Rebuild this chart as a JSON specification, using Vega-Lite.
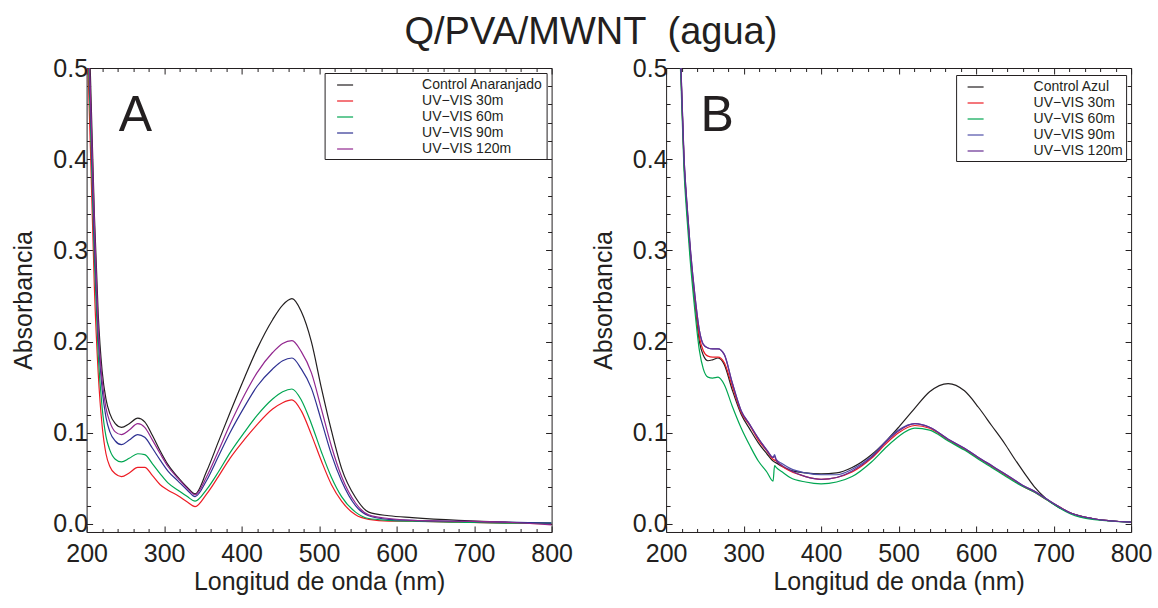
{
  "$schema": "https://vega.github.io/schema/vega-lite/v6.json",
  "padding": {"left": 11.6, "top": 14, "right": 0, "bottom": 0},
  "background": "white",
  "title": {"text": "Q/PVA/MWNT\u00a0 (agua)", "fontSize": 38, "font": "Liberation Sans", "fontWeight": "normal", "color": "#231f20", "anchor": "middle", "baseline": "alphabetic", "offset": -26, "dx": 9},
  "config": {
    "font": "Liberation Sans",
    "view": {"stroke": null},
    "axis": {"grid": false, "domainColor": "#231f20", "domainWidth": 1, "tickColor": "#231f20", "tickWidth": 1, "labelColor": "#231f20", "titleColor": "#231f20", "labelFontSize": 25, "titleFontSize": 25, "titleFontWeight": "normal", "labelFont": "Liberation Sans", "titleFont": "Liberation Sans", "labelFlush": false, "labelOverlap": false, "labelBound": false},
    "legend": {"title": null, "orient": "none", "strokeColor": "#231f20", "fillColor": "white", "padding": 3, "symbolType": "stroke", "symbolSize": 256, "symbolStrokeWidth": 1.2, "labelFontSize": 14, "labelFont": "Liberation Sans", "labelColor": "#231f20", "rowPadding": 0, "labelLimit": 300}
  },
  "spacing": 114.5,
  "bounds": "flush",
  "resolve": {"scale": {"color": "independent"}},
  "hconcat": [
    {
      "width": 465, "height": 464,
      "data": {"values": [
        {"nm": 200, "control": 0.62, "m30": 0.55, "m60": 0.57, "m90": 0.59, "m120": 0.60},
        {"nm": 205, "control": 0.49, "m30": 0.41, "m60": 0.44, "m90": 0.46, "m120": 0.47},
        {"nm": 210, "control": 0.34, "m30": 0.26, "m60": 0.29, "m90": 0.31, "m120": 0.33},
        {"nm": 215, "control": 0.23, "m30": 0.165, "m60": 0.185, "m90": 0.205, "m120": 0.215},
        {"nm": 220, "control": 0.168, "m30": 0.108, "m60": 0.128, "m90": 0.148, "m120": 0.158},
        {"nm": 225, "control": 0.137, "m30": 0.077, "m60": 0.096, "m90": 0.117, "m120": 0.127},
        {"nm": 230, "control": 0.121, "m30": 0.063, "m60": 0.081, "m90": 0.101, "m120": 0.112},
        {"nm": 237, "control": 0.110, "m30": 0.055, "m60": 0.071, "m90": 0.091, "m120": 0.101},
        {"nm": 245, "control": 0.106, "m30": 0.052, "m60": 0.068, "m90": 0.087, "m120": 0.098},
        {"nm": 255, "control": 0.110, "m30": 0.056, "m60": 0.072, "m90": 0.092, "m120": 0.103},
        {"nm": 266, "control": 0.116, "m30": 0.062, "m60": 0.077, "m90": 0.098, "m120": 0.110},
        {"nm": 275, "control": 0.112, "m30": 0.062, "m60": 0.076, "m90": 0.095, "m120": 0.106},
        {"nm": 285, "control": 0.097, "m30": 0.053, "m60": 0.066, "m90": 0.083, "m120": 0.092},
        {"nm": 295, "control": 0.080, "m30": 0.043, "m60": 0.055, "m90": 0.070, "m120": 0.077},
        {"nm": 305, "control": 0.065, "m30": 0.037, "m60": 0.045, "m90": 0.058, "m120": 0.063},
        {"nm": 318, "control": 0.051, "m30": 0.031, "m60": 0.037, "m90": 0.047, "m120": 0.050},
        {"nm": 330, "control": 0.040, "m30": 0.024, "m60": 0.030, "m90": 0.037, "m120": 0.039},
        {"nm": 340, "control": 0.033, "m30": 0.019, "m60": 0.025, "m90": 0.030, "m120": 0.032},
        {"nm": 355, "control": 0.058, "m30": 0.033, "m60": 0.038, "m90": 0.048, "m120": 0.052},
        {"nm": 370, "control": 0.090, "m30": 0.052, "m60": 0.057, "m90": 0.074, "m120": 0.080},
        {"nm": 385, "control": 0.122, "m30": 0.072, "m60": 0.078, "m90": 0.100, "m120": 0.109},
        {"nm": 404, "control": 0.161, "m30": 0.093, "m60": 0.101, "m90": 0.129, "m120": 0.142},
        {"nm": 420, "control": 0.192, "m30": 0.109, "m60": 0.119, "m90": 0.151, "m120": 0.166},
        {"nm": 440, "control": 0.224, "m30": 0.126, "m60": 0.137, "m90": 0.170, "m120": 0.188},
        {"nm": 453, "control": 0.240, "m30": 0.133, "m60": 0.145, "m90": 0.179, "m120": 0.198},
        {"nm": 465, "control": 0.247, "m30": 0.136, "m60": 0.148, "m90": 0.182, "m120": 0.201},
        {"nm": 477, "control": 0.233, "m30": 0.124, "m60": 0.136, "m90": 0.170, "m120": 0.189},
        {"nm": 490, "control": 0.200, "m30": 0.098, "m60": 0.110, "m90": 0.149, "m120": 0.166},
        {"nm": 503, "control": 0.149, "m30": 0.069, "m60": 0.079, "m90": 0.113, "m120": 0.126},
        {"nm": 516, "control": 0.102, "m30": 0.043, "m60": 0.051, "m90": 0.076, "m120": 0.085},
        {"nm": 529, "control": 0.061, "m30": 0.025, "m60": 0.030, "m90": 0.047, "m120": 0.052},
        {"nm": 547, "control": 0.029, "m30": 0.010, "m60": 0.013, "m90": 0.020, "m120": 0.023},
        {"nm": 564, "control": 0.013, "m30": 0.005, "m60": 0.006, "m90": 0.009, "m120": 0.010},
        {"nm": 590, "control": 0.009, "m30": 0.003, "m60": 0.004, "m90": 0.005, "m120": 0.006},
        {"nm": 620, "control": 0.007, "m30": 0.003, "m60": 0.003, "m90": 0.004, "m120": 0.004},
        {"nm": 680, "control": 0.004, "m30": 0.002, "m60": 0.002, "m90": 0.003, "m120": 0.003},
        {"nm": 740, "control": 0.002, "m30": 0.001, "m60": 0.001, "m90": 0.002, "m120": 0.002},
        {"nm": 800, "control": 0.001, "m30": 0.000, "m60": 0.001, "m90": 0.001, "m120": -0.001}
      ]},
      "transform": [{"fold": ["control", "m30", "m60", "m90", "m120"], "as": ["serie", "abs"]}],
      "resolve": {"axis": {"x": "independent", "y": "independent"}},
      "layer": [
        {
          "mark": {"type": "line", "clip": true, "strokeWidth": 1.2, "interpolate": "monotone"},
          "encoding": {
            "x": {"field": "nm", "type": "quantitative", "scale": {"domain": [200, 800], "nice": false, "zero": false},
              "axis": {"orient": "bottom", "title": "Longitud de onda (nm)", "values": [200,220,240,260,280,300,320,340,360,380,400,420,440,460,480,500,520,540,560,580,600,620,640,660,680,700,720,740,760,780,800],
                "labelExpr": "datum.value % 100 == 0 ? datum.label : ''", "tickSize": {"condition": {"test": "datum.value % 100 == 0", "value": -6}, "value": -3.5}, "labelPadding": 16, "titlePadding": 0}},
            "y": {"field": "abs", "type": "quantitative", "scale": {"domain": [-0.0088, 0.5], "nice": false, "zero": false},
              "axis": {"orient": "left", "title": "Absorbancia", "format": ".1f", "values": [0,0.02,0.04,0.06,0.08,0.1,0.12,0.14,0.16,0.18,0.2,0.22,0.24,0.26,0.28,0.3,0.32,0.34,0.36,0.38,0.4,0.42,0.44,0.46,0.48,0.5],
                "labelExpr": "abs(datum.value*10 - round(datum.value*10)) < 0.001 ? datum.label : ''", "tickSize": {"condition": {"test": "abs(datum.value*10 - round(datum.value*10)) < 0.001", "value": -6}, "value": -4}, "labelPadding": 5, "titlePadding": 16}},
            "color": {"field": "serie", "type": "nominal",
              "scale": {"domain": ["control", "m30", "m60", "m90", "m120"], "range": ["#231f20", "#ed1c24", "#00a651", "#2e3192", "#92278f"]},
              "legend": {"legendX": 238, "legendY": 5, "symbolOffset": 8.5, "labelOffset": 68,
                "labelExpr": "datum.value == 'control' ? 'Control Anaranjado' : datum.value == 'm30' ? 'UV−VIS 30m' : datum.value == 'm60' ? 'UV−VIS 60m' : datum.value == 'm90' ? 'UV−VIS 90m' : 'UV−VIS 120m'"}}
          }
        },
        {
          "mark": {"type": "line", "opacity": 0, "clip": true},
          "encoding": {
            "x": {"field": "nm", "type": "quantitative",
              "axis": {"orient": "top", "title": null, "labels": false, "values": [200,220,240,260,280,300,320,340,360,380,400,420,440,460,480,500,520,540,560,580,600,620,640,660,680,700,720,740,760,780,800],
                "tickSize": {"condition": {"test": "datum.value % 100 == 0", "value": -6}, "value": -3.5}}},
            "y": {"field": "abs", "type": "quantitative",
              "axis": {"orient": "right", "title": null, "labels": false, "values": [0,0.02,0.04,0.06,0.08,0.1,0.12,0.14,0.16,0.18,0.2,0.22,0.24,0.26,0.28,0.3,0.32,0.34,0.36,0.38,0.4,0.42,0.44,0.46,0.48,0.5],
                "tickSize": {"condition": {"test": "abs(datum.value*10 - round(datum.value*10)) < 0.001", "value": -6}, "value": -4}}},
            "detail": {"field": "serie"}
          }
        },
        {
          "data": {"values": [{"letra": "A"}]},
          "mark": {"type": "text", "fontSize": 50, "font": "Liberation Sans", "color": "#231f20", "align": "center", "baseline": "alphabetic"},
          "encoding": {
            "x": {"datum": 263, "type": "quantitative", "axis": null},
            "y": {"datum": 0.431, "type": "quantitative", "axis": null},
            "text": {"field": "letra"}
          }
        }
      ]
    },
    {
      "width": 465, "height": 464,
      "data": {"values": [
        {"nm": 200, "control": 0.92, "m30": 0.92, "m60": 0.91, "m90": 0.93, "m120": 0.93},
        {"nm": 210, "control": 0.68, "m30": 0.68, "m60": 0.67, "m90": 0.69, "m120": 0.69},
        {"nm": 215, "control": 0.58, "m30": 0.58, "m60": 0.57, "m90": 0.59, "m120": 0.59},
        {"nm": 219, "control": 0.50, "m30": 0.50, "m60": 0.49, "m90": 0.505, "m120": 0.505},
        {"nm": 223, "control": 0.40, "m30": 0.40, "m60": 0.39, "m90": 0.405, "m120": 0.405},
        {"nm": 227, "control": 0.345, "m30": 0.345, "m60": 0.335, "m90": 0.35, "m120": 0.35},
        {"nm": 231, "control": 0.30, "m30": 0.30, "m60": 0.29, "m90": 0.305, "m120": 0.305},
        {"nm": 237, "control": 0.245, "m30": 0.247, "m60": 0.235, "m90": 0.252, "m120": 0.252},
        {"nm": 243, "control": 0.200, "m30": 0.205, "m60": 0.190, "m90": 0.212, "m120": 0.212},
        {"nm": 248, "control": 0.185, "m30": 0.190, "m60": 0.170, "m90": 0.197, "m120": 0.197},
        {"nm": 254, "control": 0.179, "m30": 0.184, "m60": 0.161, "m90": 0.193, "m120": 0.193},
        {"nm": 260, "control": 0.180, "m30": 0.183, "m60": 0.160, "m90": 0.192, "m120": 0.192},
        {"nm": 267, "control": 0.182, "m30": 0.183, "m60": 0.161, "m90": 0.192, "m120": 0.192},
        {"nm": 275, "control": 0.175, "m30": 0.177, "m60": 0.153, "m90": 0.186, "m120": 0.186},
        {"nm": 285, "control": 0.148, "m30": 0.152, "m60": 0.130, "m90": 0.156, "m120": 0.156},
        {"nm": 297, "control": 0.120, "m30": 0.122, "m60": 0.105, "m90": 0.124, "m120": 0.124},
        {"nm": 308, "control": 0.104, "m30": 0.108, "m60": 0.086, "m90": 0.109, "m120": 0.109},
        {"nm": 319, "control": 0.089, "m30": 0.092, "m60": 0.069, "m90": 0.094, "m120": 0.094},
        {"nm": 330, "control": 0.077, "m30": 0.080, "m60": 0.057, "m90": 0.081, "m120": 0.081},
        {"nm": 338, "control": 0.069, "m30": 0.071, "m60": 0.047, "m90": 0.073, "m120": 0.073},
        {"nm": 340, "control": 0.068, "m30": 0.070, "m60": 0.064, "m90": 0.076, "m120": 0.074},
        {"nm": 342, "control": 0.067, "m30": 0.069, "m60": 0.062, "m90": 0.071, "m120": 0.070},
        {"nm": 350, "control": 0.063, "m30": 0.063, "m60": 0.057, "m90": 0.066, "m120": 0.064},
        {"nm": 360, "control": 0.059, "m30": 0.058, "m60": 0.051, "m90": 0.061, "m120": 0.059},
        {"nm": 380, "control": 0.056, "m30": 0.052, "m60": 0.046, "m90": 0.056, "m120": 0.052},
        {"nm": 400, "control": 0.055, "m30": 0.049, "m60": 0.044, "m90": 0.054, "m120": 0.049},
        {"nm": 420, "control": 0.056, "m30": 0.051, "m60": 0.046, "m90": 0.054, "m120": 0.051},
        {"nm": 440, "control": 0.062, "m30": 0.057, "m60": 0.052, "m90": 0.060, "m120": 0.058},
        {"nm": 465, "control": 0.076, "m30": 0.072, "m60": 0.068, "m90": 0.074, "m120": 0.073},
        {"nm": 485, "control": 0.092, "m30": 0.089, "m60": 0.085, "m90": 0.092, "m120": 0.091},
        {"nm": 500, "control": 0.106, "m30": 0.100, "m60": 0.096, "m90": 0.103, "m120": 0.102},
        {"nm": 521, "control": 0.127, "m30": 0.108, "m60": 0.105, "m90": 0.110, "m120": 0.110},
        {"nm": 540, "control": 0.145, "m30": 0.105, "m60": 0.103, "m90": 0.106, "m120": 0.106},
        {"nm": 564, "control": 0.154, "m30": 0.092, "m60": 0.091, "m90": 0.093, "m120": 0.093},
        {"nm": 585, "control": 0.146, "m30": 0.082, "m60": 0.081, "m90": 0.083, "m120": 0.083},
        {"nm": 603, "control": 0.128, "m30": 0.072, "m60": 0.071, "m90": 0.073, "m120": 0.073},
        {"nm": 620, "control": 0.108, "m30": 0.063, "m60": 0.062, "m90": 0.064, "m120": 0.064},
        {"nm": 637, "control": 0.088, "m30": 0.054, "m60": 0.053, "m90": 0.055, "m120": 0.055},
        {"nm": 650, "control": 0.071, "m30": 0.047, "m60": 0.046, "m90": 0.048, "m120": 0.048},
        {"nm": 663, "control": 0.055, "m30": 0.040, "m60": 0.040, "m90": 0.041, "m120": 0.041},
        {"nm": 675, "control": 0.041, "m30": 0.035, "m60": 0.035, "m90": 0.036, "m120": 0.036},
        {"nm": 690, "control": 0.028, "m30": 0.027, "m60": 0.027, "m90": 0.028, "m120": 0.028},
        {"nm": 705, "control": 0.019, "m30": 0.020, "m60": 0.019, "m90": 0.020, "m120": 0.020},
        {"nm": 722, "control": 0.012, "m30": 0.012, "m60": 0.011, "m90": 0.012, "m120": 0.012},
        {"nm": 750, "control": 0.006, "m30": 0.006, "m60": 0.005, "m90": 0.006, "m120": 0.006},
        {"nm": 800, "control": 0.002, "m30": 0.002, "m60": 0.002, "m90": 0.002, "m120": 0.002}
      ]},
      "transform": [{"fold": ["control", "m30", "m60", "m90", "m120"], "as": ["serie", "abs"]}],
      "resolve": {"axis": {"x": "independent", "y": "independent"}},
      "layer": [
        {
          "mark": {"type": "line", "clip": true, "strokeWidth": 1.2, "interpolate": "monotone"},
          "encoding": {
            "x": {"field": "nm", "type": "quantitative", "scale": {"domain": [200, 800], "nice": false, "zero": false},
              "axis": {"orient": "bottom", "title": "Longitud de onda (nm)", "values": [200,220,240,260,280,300,320,340,360,380,400,420,440,460,480,500,520,540,560,580,600,620,640,660,680,700,720,740,760,780,800],
                "labelExpr": "datum.value % 100 == 0 ? datum.label : ''", "tickSize": {"condition": {"test": "datum.value % 100 == 0", "value": -6}, "value": -3.5}, "labelPadding": 16, "titlePadding": 0}},
            "y": {"field": "abs", "type": "quantitative", "scale": {"domain": [-0.0088, 0.5], "nice": false, "zero": false},
              "axis": {"orient": "left", "title": "Absorbancia", "format": ".1f", "values": [0,0.02,0.04,0.06,0.08,0.1,0.12,0.14,0.16,0.18,0.2,0.22,0.24,0.26,0.28,0.3,0.32,0.34,0.36,0.38,0.4,0.42,0.44,0.46,0.48,0.5],
                "labelExpr": "abs(datum.value*10 - round(datum.value*10)) < 0.001 ? datum.label : ''", "tickSize": {"condition": {"test": "abs(datum.value*10 - round(datum.value*10)) < 0.001", "value": -6}, "value": -4}, "labelPadding": 5, "titlePadding": 16}},
            "color": {"field": "serie", "type": "nominal",
              "scale": {"domain": ["control", "m30", "m60", "m90", "m120"], "range": ["#231f20", "#ed1c24", "#00a651", "#4f4fa8", "#662d91"]},
              "legend": {"legendX": 290, "legendY": 7, "symbolOffset": 7.5, "labelOffset": 49,
                "labelExpr": "datum.value == 'control' ? 'Control Azul' : datum.value == 'm30' ? 'UV−VIS 30m' : datum.value == 'm60' ? 'UV−VIS 60m' : datum.value == 'm90' ? 'UV−VIS 90m' : 'UV−VIS 120m'"}}
          }
        },
        {
          "mark": {"type": "line", "opacity": 0, "clip": true},
          "encoding": {
            "x": {"field": "nm", "type": "quantitative",
              "axis": {"orient": "top", "title": null, "labels": false, "values": [200,220,240,260,280,300,320,340,360,380,400,420,440,460,480,500,520,540,560,580,600,620,640,660,680,700,720,740,760,780,800],
                "tickSize": {"condition": {"test": "datum.value % 100 == 0", "value": -6}, "value": -3.5}}},
            "y": {"field": "abs", "type": "quantitative",
              "axis": {"orient": "right", "title": null, "labels": false, "values": [0,0.02,0.04,0.06,0.08,0.1,0.12,0.14,0.16,0.18,0.2,0.22,0.24,0.26,0.28,0.3,0.32,0.34,0.36,0.38,0.4,0.42,0.44,0.46,0.48,0.5],
                "tickSize": {"condition": {"test": "abs(datum.value*10 - round(datum.value*10)) < 0.001", "value": -6}, "value": -4}}},
            "detail": {"field": "serie"}
          }
        },
        {
          "data": {"values": [{"letra": "B"}]},
          "mark": {"type": "text", "fontSize": 50, "font": "Liberation Sans", "color": "#231f20", "align": "center", "baseline": "alphabetic"},
          "encoding": {
            "x": {"datum": 266, "type": "quantitative", "axis": null},
            "y": {"datum": 0.431, "type": "quantitative", "axis": null},
            "text": {"field": "letra"}
          }
        }
      ]
    }
  ]
}
